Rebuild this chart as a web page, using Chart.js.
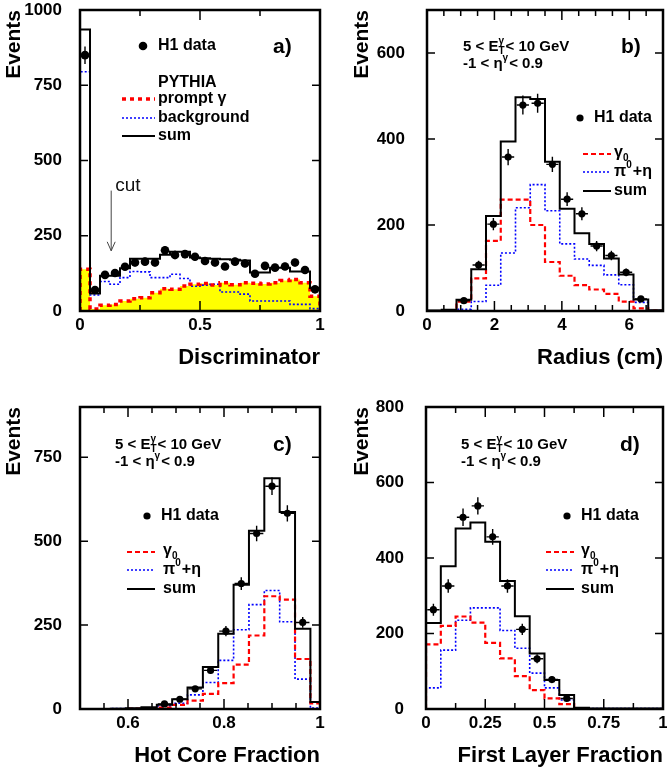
<!DOCTYPE html>
<html>
<head>
<meta charset="utf-8">
<script src="https://cdn.jsdelivr.net/npm/chart.js@4"></script>
<style>
  html, body { margin: 0; padding: 0; background: #fff; }
  #wrap { position: relative; width: 667px; height: 774px; overflow: hidden; }
  canvas { position: absolute; }
</style>
</head>
<body>
<div id="wrap">
  <canvas id="ca" width="333" height="387" style="left:0;top:0"></canvas>
  <canvas id="cb" width="334" height="387" style="left:333px;top:0"></canvas>
  <canvas id="cc" width="333" height="387" style="left:0;top:387px"></canvas>
  <canvas id="cd" width="334" height="387" style="left:333px;top:387px"></canvas>
</div>
<script>
// ---- a) Discriminator, 24 bins ----
const aEdges = [0, 0.0417, 0.0833, 0.125, 0.1667, 0.2083, 0.25, 0.2917, 0.3333, 0.375, 0.4167, 0.4583, 0.5,
                0.5417, 0.5833, 0.625, 0.6667, 0.7083, 0.75, 0.7917, 0.8333, 0.875, 0.9167, 0.9583, 1];
const aData   = [850, 70, 120, 126, 147, 161, 164, 161, 202, 186, 189, 180, 166, 161, 148, 164, 158, 124, 150, 144, 148, 161, 136, 72];
const aErr    = [29, 8, 11, 11, 12, 13, 13, 13, 14, 14, 14, 13, 13, 13, 12, 13, 13, 11, 12, 12, 12, 13, 12, 8];
const aSum    = [935, 58, 117, 117, 142, 174, 174, 174, 187, 197, 197, 178, 175, 174, 172, 170, 168, 128, 128, 144, 144, 131, 131, 76];
const aPrompt = [139, 7, 19, 22, 33, 41, 44, 61, 74, 72, 83, 89, 91, 86, 94, 87, 94, 92, 90, 94, 101, 105, 94, 49];
const aBkg    = [795, 53, 98, 89, 111, 131, 130, 111, 111, 122, 108, 82, 86, 89, 63, 63, 56, 33, 33, 33, 33, 22, 22, 8];
const aXTicks = [0, 0.5, 1], aXMinor = [0.25, 0.75], aYTicks = [0, 250, 500, 750, 1000];

// ---- b) Radius, 16 bins ----
const bEdges = [0, 0.4375, 0.875, 1.3125, 1.75, 2.1875, 2.625, 3.0625, 3.5, 3.9375, 4.375, 4.8125, 5.25, 5.6875, 6.125, 6.5625, 7];
const bData  = [null, null, 24, 107, 202, 358, 479, 483, 341, 260, 226, 151, 129, 90, 28, null];
const bErr   = [0, 0, 5, 10, 14, 19, 22, 22, 18, 16, 15, 12, 11, 9, 5, 0];
const bSum   = [1, 3, 26, 97, 221, 394, 497, 493, 347, 238, 181, 156, 122, 85, 27, 2];
const bGamma = [0, 1, 22, 76, 163, 259, 259, 200, 114, 82, 60, 50, 40, 22, 6, 1];
const bPi    = [0, 2, 4, 22, 60, 135, 240, 294, 233, 156, 121, 106, 84, 61, 20, 1];
const bXTicks = [0, 2, 4, 6], bXMinor = [0.5, 1, 1.5, 2.5, 3, 3.5, 4.5, 5, 5.5, 6.5], bYTicks = [0, 200, 400, 600];

// ---- c) Hot Core Fraction, 16 bins ----
const cEdges = [0.5, 0.532, 0.564, 0.596, 0.628, 0.66, 0.692, 0.724, 0.756, 0.788, 0.82, 0.852, 0.884, 0.916, 0.948, 0.98, 1.012];
const cData  = [null, null, null, null, null, 15, 29, 60, 115, 232, 374, 523, 664, 583, 258, null];
const cErr   = [0, 0, 0, 0, 0, 4, 5, 8, 11, 15, 19, 23, 26, 24, 16, 0];
const cSum   = [0, 0, 1, 2, 5, 13, 29, 64, 125, 224, 370, 531, 688, 587, 239, 21];
const cGamma = [0, 0, 0, 1, 2, 4, 12, 25, 45, 77, 132, 219, 336, 326, 149, 17];
const cPi    = [0, 0, 1, 1, 3, 9, 17, 42, 79, 145, 236, 311, 353, 260, 89, 3];
const cXTicks = [0.6, 0.8, 1], cXMinor = [0.55, 0.65, 0.7, 0.75, 0.85, 0.9, 0.95], cYTicks = [0, 250, 500, 750];

// ---- d) First Layer Fraction, 16 bins ----
const dEdges = [0, 0.0625, 0.125, 0.1875, 0.25, 0.3125, 0.375, 0.4375, 0.5, 0.5625, 0.625, 0.6875, 0.75, 0.8125, 0.875, 0.9375, 1];
const dData  = [263, 326, 508, 538, 456, 326, 211, 133, 78, 28, null, null, null, null, null, null];
const dErr   = [16, 18, 23, 23, 21, 18, 15, 12, 9, 5, 0, 0, 0, 0, 0, 0];
const dSum   = [228, 378, 478, 494, 443, 339, 246, 147, 77, 37, 3, 1, 1, 1, 1, 1];
const dGamma = [171, 220, 245, 229, 175, 134, 87, 50, 28, 13, 1, 0, 0, 0, 0, 0];
const dPi    = [56, 156, 235, 268, 268, 208, 161, 95, 56, 24, 2, 1, 1, 1, 1, 1];
const dXTicks = [0, 0.25, 0.5, 0.75, 1], dXMinor = [0.125, 0.375, 0.625, 0.875], dYTicks = [0, 200, 400, 600, 800];

const FONT = '"Liberation Sans", Arial, sans-serif';
Chart.defaults.font.family = FONT;
Chart.defaults.color = '#000';

// histogram outline as step points
function steps(edges, vals) {
  const n = vals.length;
  const pts = [{x: edges[0], y: 0}];
  vals.forEach((v, i) => pts.push({x: edges[i], y: v}));
  pts.push({x: edges[n], y: vals[n - 1]});
  pts.push({x: edges[n], y: 0});
  return pts;
}
function centres(edges, vals, errs) {
  const out = [];
  vals.forEach((v, i) => {
    if (v != null) out.push({x: (edges[i] + edges[i + 1]) / 2, y: v, e: errs[i]});
  });
  return out;
}

function rich(ctx, x, y, parts, size, weight) {
  parts.forEach(p => {
    if (p.t) {
      ctx.font = weight + ' ' + size + 'px ' + FONT;
      ctx.fillText(p.t, x, y);
      x += ctx.measureText(p.t).width;
    } else {
      const s = Math.round(size * 0.65);
      ctx.font = weight + ' ' + s + 'px ' + FONT;
      let w = 0;
      if (p.sup) { ctx.fillText(p.sup, x, y - size * 0.4); w = ctx.measureText(p.sup).width; }
      if (p.sub) { ctx.fillText(p.sub, x, y + size * 0.3); w = Math.max(w, ctx.measureText(p.sub).width); }
      x += w + 1;
    }
  });
}

const RED = {c: '#ff0000', w: 2.2, d: [5, 3]};
const BLUE = {c: '#0000ff', w: 1.6, d: [2, 2]};
const BLACK = {c: '#000000', w: 2, d: []};

function makeChart(id, cfg) {
  const pts = centres(cfg.edges, cfg.data, cfg.err);
  const decor = {
    id: 'decor',
    afterDatasetsDraw(chart) {
      const {ctx, chartArea: a} = chart;
      const sx = chart.scales.x, sy = chart.scales.y;
      ctx.save();
      ctx.strokeStyle = '#000';
      ctx.setLineDash([]);
      // error bars
      ctx.lineWidth = 1.4;
      pts.forEach(p => {
        const px = sx.getPixelForValue(p.x), py = sy.getPixelForValue(p.y);
        ctx.beginPath();
        ctx.moveTo(px, sy.getPixelForValue(p.y - p.e));
        ctx.lineTo(px, sy.getPixelForValue(p.y + p.e));
        ctx.moveTo(sx.getPixelForValue(p.x - cfg.hw), py);
        ctx.lineTo(sx.getPixelForValue(p.x + cfg.hw), py);
        ctx.stroke();
      });
      // inward ticks on all four sides
      ctx.lineWidth = 1.5;
      const tickX = (vals, len) => vals.forEach(v => {
        const px = sx.getPixelForValue(v);
        ctx.beginPath();
        ctx.moveTo(px, a.bottom); ctx.lineTo(px, a.bottom - len);
        ctx.moveTo(px, a.top); ctx.lineTo(px, a.top + len);
        ctx.stroke();
      });
      tickX(cfg.xTicks, 10);
      tickX(cfg.xMinor, 6);
      cfg.yTicks.forEach(v => {
        const py = sy.getPixelForValue(v);
        ctx.beginPath();
        ctx.moveTo(a.left, py); ctx.lineTo(a.left + 8, py);
        ctx.moveTo(a.right, py); ctx.lineTo(a.right - 8, py);
        ctx.stroke();
      });
      // cut arrow (panel a)
      if (cfg.cut) {
        const px = sx.getPixelForValue(cfg.cut.x);
        const y1 = sy.getPixelForValue(cfg.cut.from), y2 = sy.getPixelForValue(cfg.cut.to);
        ctx.strokeStyle = '#444'; ctx.lineWidth = 1;
        ctx.beginPath();
        ctx.moveTo(px, y1); ctx.lineTo(px, y2);
        ctx.moveTo(px - 4, y2 - 9); ctx.lineTo(px, y2); ctx.lineTo(px + 4, y2 - 9);
        ctx.stroke();
        ctx.fillStyle = '#111';
        ctx.font = '19px ' + FONT;
        ctx.textBaseline = 'middle';
        ctx.fillText('cut', px + 4, y1 - 5);
      }
      // frame
      ctx.strokeStyle = '#000';
      ctx.lineWidth = 2.5;
      ctx.strokeRect(a.left, a.top, a.right - a.left, a.bottom - a.top);
      ctx.restore();
    },
    afterDraw(chart) {
      const ctx = chart.ctx;
      ctx.save();
      ctx.textBaseline = 'middle';
      ctx.fillStyle = '#000';
      cfg.notes.forEach(n => {
        if (n.style) {
          ctx.strokeStyle = n.style.c; ctx.lineWidth = n.style.w; ctx.setLineDash(n.style.d);
          ctx.beginPath(); ctx.moveTo(n.x1, n.y); ctx.lineTo(n.x2, n.y); ctx.stroke();
          ctx.setLineDash([]);
        } else if (n.dot) {
          ctx.beginPath(); ctx.arc(n.x, n.y, n.dot, 0, Math.PI * 2); ctx.fill();
        } else {
          rich(ctx, n.x, n.y, n.parts, n.size, n.weight || 'bold');
        }
      });
      ctx.restore();
    }
  };

  const line = (vals, st, extra) => Object.assign({
    data: steps(cfg.edges, vals), stepped: true, borderColor: st.c, borderWidth: st.w,
    borderDash: st.d, pointRadius: 0, fill: false
  }, extra || {});

  const datasets = [
    {data: pts, showLine: false, pointRadius: cfg.r, pointBackgroundColor: '#000', pointBorderWidth: 0},
    line(cfg.sum, BLACK),
    line(cfg.gamma, cfg.redStyle || RED),
    line(cfg.pi, BLUE)
  ];
  if (cfg.fillYellow) {
    datasets.push(line(cfg.gamma, {c: 'rgba(0,0,0,0)', w: 0.01, d: []},
      {fill: 'origin', backgroundColor: '#ffff00'}));
  }

  const tickFont = {size: 17, weight: 'bold', family: FONT};
  new Chart(document.getElementById(id), {
    type: 'line',
    data: {datasets},
    options: {
      responsive: false, animation: false, devicePixelRatio: 1, events: [],
      layout: {padding: cfg.pad},
      plugins: {legend: {display: false}, tooltip: {enabled: false}},
      scales: {
        x: {
          type: 'linear', min: cfg.xr[0], max: cfg.xr[1],
          grid: {display: false, drawTicks: false}, border: {display: false},
          afterBuildTicks: s => { s.ticks = cfg.xTicks.map(v => ({value: v})); },
          afterFit: s => { s.height = cfg.xH; s.paddingLeft = 0; s.paddingRight = 0; },
          ticks: {font: tickFont, color: '#000', padding: 4, maxRotation: 0, autoSkip: false, callback: v => String(v)},
          title: {display: true, text: cfg.xTitle, align: 'end', color: '#000', padding: 0,
                  font: {size: 22, weight: 'bold', family: FONT}}
        },
        y: {
          min: cfg.yr[0], max: cfg.yr[1],
          grid: {display: false, drawTicks: false}, border: {display: false},
          afterBuildTicks: s => { s.ticks = cfg.yTicks.map(v => ({value: v})); },
          afterFit: s => { s.width = cfg.yW; s.paddingTop = 0; s.paddingBottom = 0; },
          ticks: {font: tickFont, color: '#000', padding: cfg.yPad, autoSkip: false, callback: v => String(v)},
          title: {display: true, text: 'Events', align: 'end', color: '#000', padding: {top: 2, bottom: 0},
                  font: {size: 21, weight: 'bold', family: FONT}}
        }
      }
    },
    plugins: [decor]
  });
}

const eLine = [{t: '5 < E'}, {sup: 'γ', sub: 'T'}, {t: '< 10 GeV'}];
const etaLine = [{t: '-1 < η'}, {sup: 'γ'}, {t: '< 0.9'}];
const gLbl = [{t: 'γ'}, {sub: '0'}];
const piLbl = [{t: 'π'}, {sup: '0'}, {t: '+η'}];

function cutLegend(x0, y0, sx, tx) {
  // legend block for panels b-d: data dot then three line samples
  return [
    {dot: 3.6, x: x0, y: y0},
    {x: x0 + 14, y: y0, parts: [{t: 'H1 data'}], size: 16},
    {style: RED, x1: sx, x2: sx + 28, y: y0 + 36},
    {x: tx, y: y0 + 35, parts: gLbl, size: 16},
    {style: BLUE, x1: sx, x2: sx + 28, y: y0 + 54},
    {x: tx, y: y0 + 54, parts: piLbl, size: 16},
    {style: BLACK, x1: sx, x2: sx + 28, y: y0 + 73},
    {x: tx, y: y0 + 73, parts: [{t: 'sum'}], size: 16}
  ];
}

makeChart('ca', {
  edges: aEdges, data: aData, err: aErr, sum: aSum, gamma: aPrompt, pi: aBkg, fillYellow: true,
  redStyle: {c: '#ff0000', w: 3.5, d: [4, 4]},
  xr: [0, 1], yr: [0, 1000], xTicks: aXTicks, xMinor: aXMinor, yTicks: aYTicks,
  xTitle: 'Discriminator', pad: {left: 0, top: 10, right: 13, bottom: 16}, yW: 80, xH: 60, yPad: 18,
  r: 4.3, hw: 0, cut: {x: 0.13, from: 400, to: 200},
  notes: [
    {dot: 4.3, x: 143, y: 46},
    {x: 158, y: 46, parts: [{t: 'H1 data'}], size: 16},
    {x: 273, y: 47, parts: [{t: 'a)'}], size: 21},
    {x: 158, y: 83, parts: [{t: 'PYTHIA'}], size: 16},
    {style: {c: '#ff0000', w: 3.5, d: [4, 4]}, x1: 122, x2: 155, y: 99},
    {x: 158, y: 99, parts: [{t: 'prompt γ'}], size: 16},
    {style: BLUE, x1: 122, x2: 155, y: 118},
    {x: 158, y: 118, parts: [{t: 'background'}], size: 16},
    {style: BLACK, x1: 122, x2: 155, y: 136},
    {x: 158, y: 136, parts: [{t: 'sum'}], size: 16}
  ]
});

makeChart('cb', {
  edges: bEdges, data: bData, err: bErr, sum: bSum, gamma: bGamma, pi: bPi,
  xr: [0, 7], yr: [0, 700], xTicks: bXTicks, xMinor: bXMinor, yTicks: bYTicks,
  xTitle: 'Radius (cm)', pad: {left: 15, top: 10, right: 0, bottom: 16}, yW: 79, xH: 60, yPad: 22,
  r: 3.6, hw: 0.18,
  notes: [
    {x: 130, y: 47, parts: eLine, size: 15},
    {x: 130, y: 64, parts: etaLine, size: 15},
    {x: 288, y: 47, parts: [{t: 'b)'}], size: 21}
  ].concat(cutLegend(247, 118, 250, 281))
});

makeChart('cc', {
  edges: cEdges, data: cData, err: cErr, sum: cSum, gamma: cGamma, pi: cPi,
  xr: [0.5, 1], yr: [0, 900], xTicks: cXTicks, xMinor: cXMinor, yTicks: cYTicks,
  xTitle: 'Hot Core Fraction', pad: {left: 0, top: 20, right: 13, bottom: 5}, yW: 80, xH: 60, yPad: 18,
  r: 3.6, hw: 0.014,
  notes: [
    {x: 115, y: 58, parts: eLine, size: 15},
    {x: 115, y: 75, parts: etaLine, size: 15},
    {x: 273, y: 58, parts: [{t: 'c)'}], size: 21}
  ].concat(cutLegend(147, 129, 127, 163))
});

makeChart('cd', {
  edges: dEdges, data: dData, err: dErr, sum: dSum, gamma: dGamma, pi: dPi,
  xr: [0, 1], yr: [0, 800], xTicks: dXTicks, xMinor: dXMinor, yTicks: dYTicks,
  xTitle: 'First Layer Fraction', pad: {left: 15, top: 20, right: 0, bottom: 5}, yW: 78, xH: 60, yPad: 22,
  r: 3.6, hw: 0.026,
  notes: [
    {x: 128, y: 58, parts: eLine, size: 15},
    {x: 128, y: 75, parts: etaLine, size: 15},
    {x: 287, y: 58, parts: [{t: 'd)'}], size: 21}
  ].concat(cutLegend(234, 129, 213, 248))
});
</script>
</body>
</html>
